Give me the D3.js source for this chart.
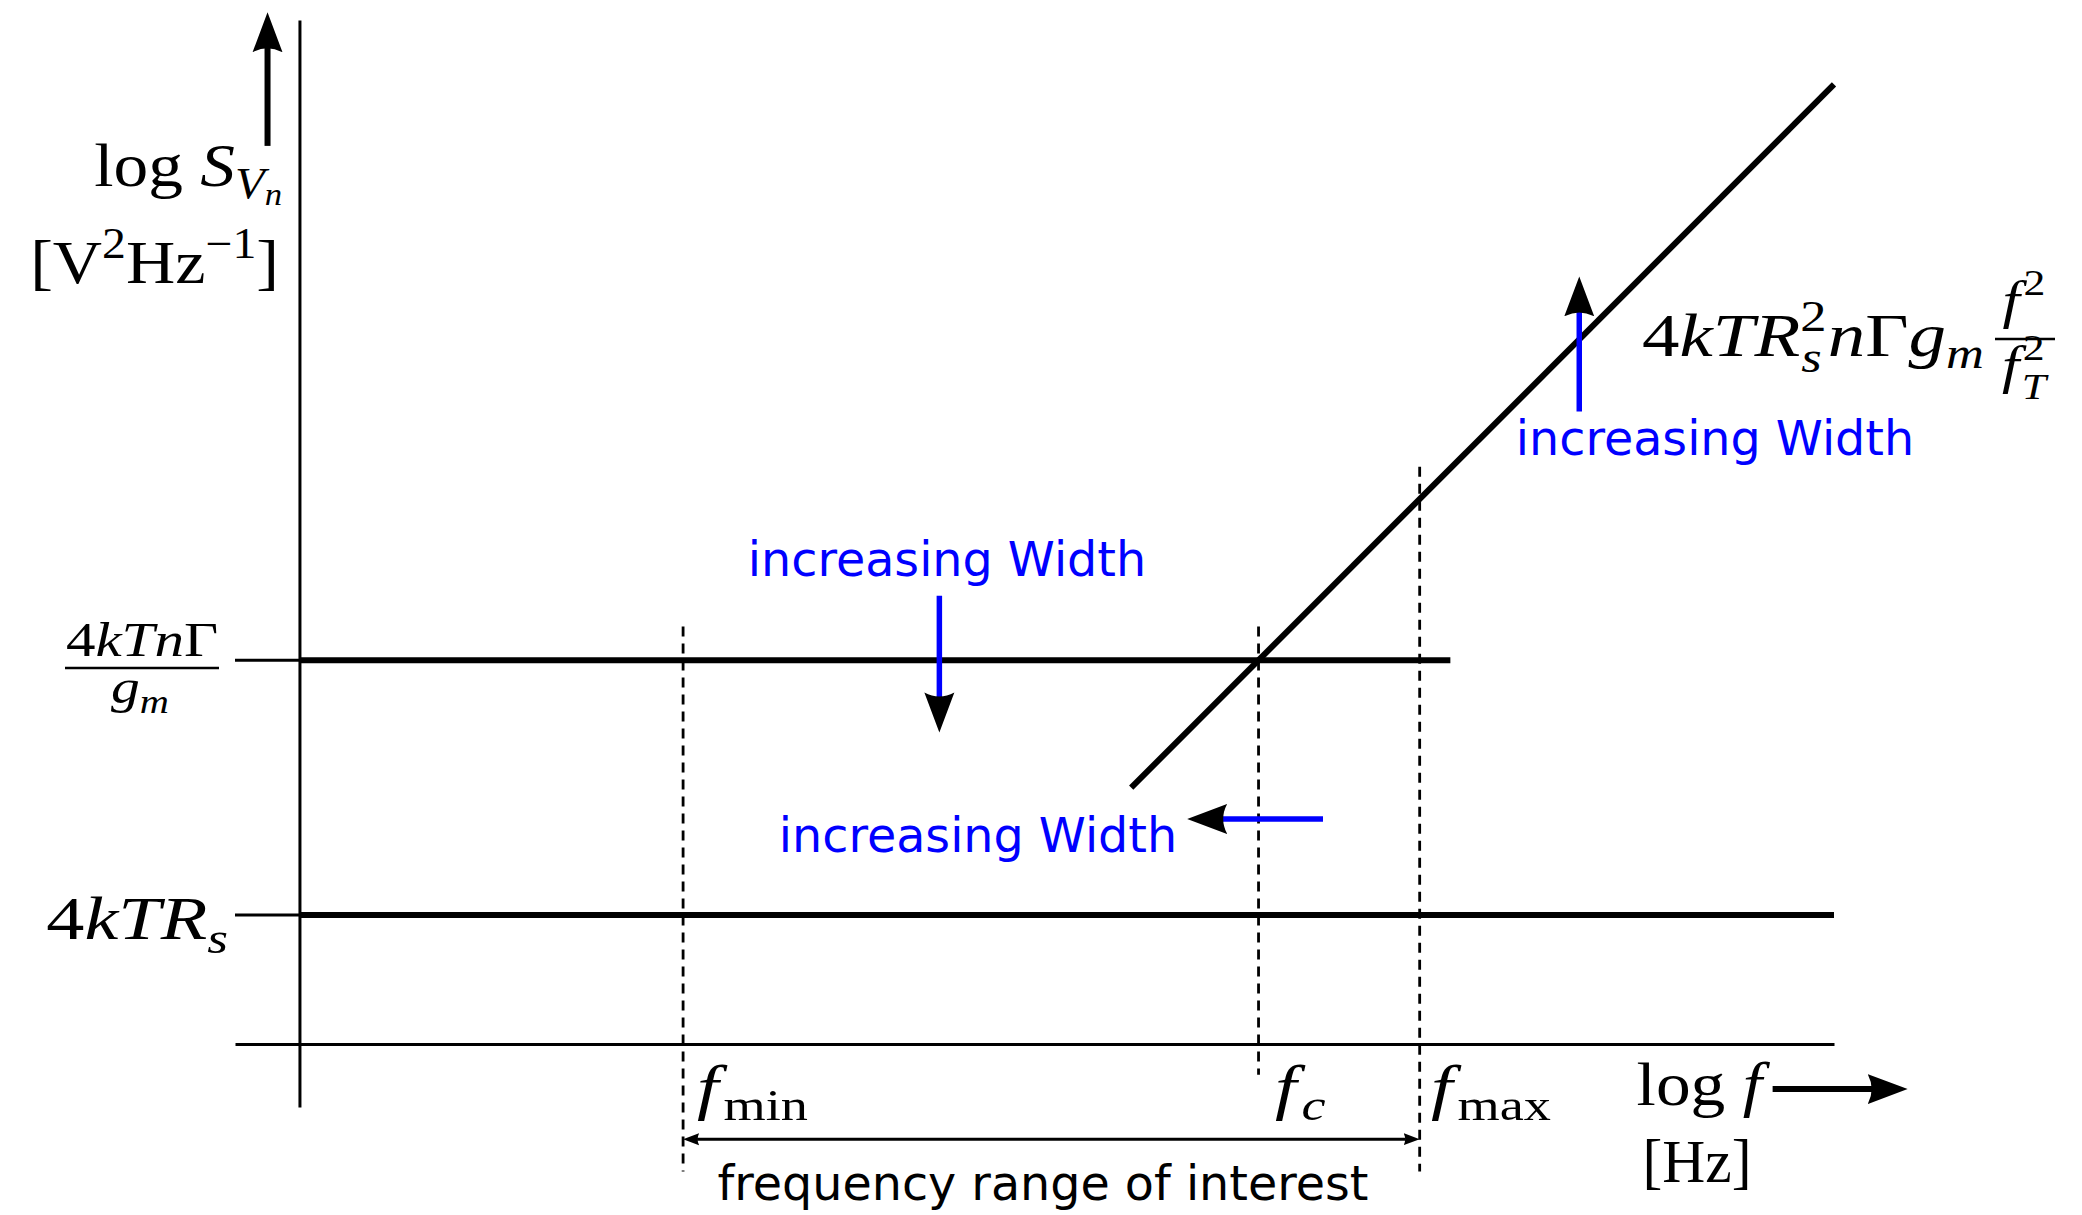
<!DOCTYPE html>
<html>
<head>
<meta charset="utf-8">
<script src="https://cdn.jsdelivr.net/npm/d3@7"></script>
<style>
body { margin: 0; background: #fff; }
svg text { font-family: "Liberation Serif", serif; }
</style>
</head>
<body>
<div id="chart"></div>
<script>
// schematic noise spectrum, arbitrary log units
var xDomain = [-4.2, 100];
var yDomain = [-4.1, 66.7];

// dashed frequency markers
var freqNames = ["min", "c", "max"];
var freqPos = [25, 62.5, 73];
var freqTop = [27.2, 27.2, 37.6];
var freqBottom = [-8.3, -2.0, -8.3];

// flat noise floors
var levelNames = ["4kTRs", "4kTnG/gm"];
var levelY = [8.4, 25];
var levelEnd = [100, 75];

// f^2 rising part
var slopeX = [54.2, 100];
var slopeY = [16.7, 62.5];

var rangeY = -6.2;

// "increasing Width" arrows
var widthFrom = [[41.7, 29.2], [66.7, 14.66], [83.4, 41.2]];
var widthTo = [[41.7, 20.3], [57.85, 14.66], [83.4, 50.0]];

var width = 2082, height = 1215;

var svg = d3.select("#chart")
    .append("svg")
    .attr("width", width)
    .attr("height", height);

var x = d3.scaleLinear().domain(xDomain).range([235, 1834]);
var y = d3.scaleLinear().domain(yDomain).range([1107, 20]);

var defs = svg.append("defs");
defs.append("marker")
    .attr("id", "head")
    .attr("viewBox", "0 -16 42 32")
    .attr("refX", 6).attr("refY", 0)
    .attr("markerWidth", 42).attr("markerHeight", 32)
    .attr("markerUnits", "userSpaceOnUse")
    .attr("orient", "auto")
    .append("path")
    .attr("d", "M0,-15 L40,0 L0,15 Q8,0 0,-15 Z")
    .attr("fill", "#000");
defs.append("marker")
    .attr("id", "small")
    .attr("viewBox", "0 -8 18 16")
    .attr("refX", 2).attr("refY", 0)
    .attr("markerWidth", 18).attr("markerHeight", 16)
    .attr("markerUnits", "userSpaceOnUse")
    .attr("orient", "auto-start-reverse")
    .append("path")
    .attr("d", "M0,-6 L16,0 L0,6 Q3,0 0,-6 Z")
    .attr("fill", "#000");

// axes (domain line only)
svg.append("g")
    .attr("transform", "translate(0," + y(0) + ")")
    .call(d3.axisBottom(x).tickValues([]).tickSizeOuter(0))
    .select(".domain").attr("stroke-width", 3);
svg.append("g")
    .attr("transform", "translate(" + x(0) + ",0)")
    .call(d3.axisLeft(y).tickValues([]).tickSizeOuter(0))
    .select(".domain").attr("stroke-width", 3);

// dashed verticals
svg.selectAll(".freq")
    .data(freqPos)
    .join("line")
    .attr("class", "freq")
    .attr("x1", function (d) { return x(d) })
    .attr("x2", function (d) { return x(d) })
    .attr("y1", function (d, i) { return y(freqTop[i]) })
    .attr("y2", function (d, i) { return y(freqBottom[i]) })
    .attr("stroke", "#000")
    .attr("stroke-width", 2.8)
    .attr("stroke-dasharray", "10,7");

// level lines: thin tick left of the axis, thick after
svg.selectAll(".tick-level")
    .data(levelY)
    .join("line")
    .attr("x1", x(xDomain[0])).attr("x2", x(0))
    .attr("y1", function (d) { return y(d) })
    .attr("y2", function (d) { return y(d) })
    .attr("stroke", "#000").attr("stroke-width", 3);
svg.selectAll(".level")
    .data(levelY)
    .join("line")
    .attr("class", "level")
    .attr("x1", x(0))
    .attr("x2", function (d, i) { return x(levelEnd[i]) })
    .attr("y1", function (d) { return y(d) })
    .attr("y2", function (d) { return y(d) })
    .attr("stroke", "#000").attr("stroke-width", 6);

svg.append("path")
    .datum(d3.zip(slopeX, slopeY))
    .attr("d", d3.line().x(function (d) { return x(d[0]) }).y(function (d) { return y(d[1]) }))
    .attr("stroke", "#000").attr("stroke-width", 6).attr("fill", "none");

// arrow helper: line from p0 to tip p1 (pixels), shortened so the marker tip lands on p1
function arrow(p0, p1, color, w, marker, cutEnd, cutStart) {
    var dx = p1[0] - p0[0], dy = p1[1] - p0[1];
    var len = Math.sqrt(dx * dx + dy * dy);
    var ux = dx / len, uy = dy / len;
    var l = svg.append("line")
        .attr("x1", p0[0] + ux * (cutStart || 0))
        .attr("y1", p0[1] + uy * (cutStart || 0))
        .attr("x2", p1[0] - ux * cutEnd)
        .attr("y2", p1[1] - uy * cutEnd)
        .attr("stroke", color)
        .attr("stroke-width", w)
        .attr("marker-end", "url(#" + marker + ")");
    if (cutStart) l.attr("marker-start", "url(#" + marker + ")");
    return l;
}

widthFrom.forEach(function (p, i) {
    arrow([x(p[0]), y(p[1])], [x(widthTo[i][0]), y(widthTo[i][1])], "#0000ff", 5.5, "head", 34);
});

// axis arrows
arrow([x(-2.08), y(58.5)], [x(-2.08), y(67.2)], "#000", 6, "head", 34);
arrow([x(96.0), y(-2.93)], [x(104.8), y(-2.93)], "#000", 6, "head", 34);

// frequency range arrow
arrow([x(freqPos[0]), y(rangeY)], [x(freqPos[2]), y(rangeY)], "#000", 3, "small", 14, 14);

// math text helper: parts {t, i (italic), k (size factor), s (baseline shift, em), dx}
// sx stretches horizontally to get closer to the wide TeX math italics
function mathText(x0, y0, parts, size, anchor, sx) {
    var t = svg.append("text")
        .attr("transform", "translate(" + x0 + "," + y0 + ") scale(" + (sx || 1) + ",1)")
        .attr("font-size", size)
        .attr("text-anchor", anchor || "start")
        .attr("fill", "#000");
    var shift = 0;
    parts.forEach(function (p) {
        var s = p.s || 0;
        t.append("tspan")
            .attr("dy", (s - shift) * size)
            .attr("dx", p.dx || 0)
            .attr("font-size", (p.k || 1) * size)
            .attr("font-style", p.i ? "italic" : "normal")
            .text(p.t);
        shift = s;
    });
    return t;
}

var M = 62;

mathText(282, 186, [{ t: "log " }, { t: "S", i: 1 }, { t: "V", i: 1, k: 0.7, s: 0.2 }, { t: "n", i: 1, k: 0.5, s: 0.3 }], M, "end", 1.12);
mathText(279, 283, [{ t: "[V" }, { t: "2", k: 0.7, s: -0.4 }, { t: "Hz" }, { t: "\u22121", k: 0.7, s: -0.4 }, { t: "]" }], M, "end", 1.1);

// fraction label for the upper level
mathText(142, 656, [{ t: "4" }, { t: "kTn", i: 1 }, { t: "\u0393" }], 48, "middle", 1.23);
svg.append("line").attr("x1", 65).attr("x2", 219).attr("y1", 668).attr("y2", 668)
    .attr("stroke", "#000").attr("stroke-width", 2.4);
mathText(140, 703, [{ t: "g", i: 1 }, { t: "m", i: 1, k: 0.7, s: 0.2 }], 48, "middle", 1.2);

mathText(228, 939, [{ t: "4" }, { t: "kTR", i: 1 }, { t: "s", i: 1, k: 0.7, s: 0.22 }], M, "end", 1.23);

// f labels
var fLabelX = [697, 1275, 1431];
freqNames.forEach(function (n, i) {
    var parts = [{ t: "f", i: 1 }];
    if (n === "c") parts.push({ t: "c", i: 1, k: 0.7, s: 0.2, dx: 4 });
    else parts.push({ t: n, k: 0.7, s: 0.2, dx: 4 });
    mathText(fLabelX[i], 1108, parts, M, "start", 1.25);
});

mathText(1762, 1105, [{ t: "log " }, { t: "f", i: 1 }], M, "end", 1.12);
mathText(1697, 1182, [{ t: "[Hz]" }], M, "middle", 0.96);

// f^2 formula
mathText(1642, 356, [{ t: "4" }, { t: "kTR", i: 1 }, { t: "2", k: 0.7, s: -0.4 },
    { t: "s", i: 1, k: 0.7, s: 0.25, dx: -21 }, { t: "n", i: 1, dx: 5 }, { t: "\u0393" }, { t: "g", i: 1 },
    { t: "m", i: 1, k: 0.7, s: 0.2 }], M, "start", 1.21);
mathText(2024, 318, [{ t: "f", i: 1 }, { t: "2", k: 0.7, s: -0.45, dx: 3 }], 52, "middle", 1.2);
svg.append("line").attr("x1", 1995).attr("x2", 2055).attr("y1", 339).attr("y2", 339)
    .attr("stroke", "#000").attr("stroke-width", 2.4);
mathText(2024, 383, [{ t: "f", i: 1 }, { t: "2", k: 0.7, s: -0.45, dx: 3 }, { t: "T", i: 1, k: 0.7, s: 0.3, dx: -19 }], 52, "middle", 1.2);

// blue annotations
var blueText = ["increasing Width", "increasing Width", "increasing Width"];
var blueX = [947, 978, 1715];
var blueY = [576, 852, 455];
svg.selectAll(".blue")
    .data(blueText)
    .join("text")
    .attr("x", function (d, i) { return blueX[i] })
    .attr("y", function (d, i) { return blueY[i] })
    .attr("text-anchor", "middle")
    .style("font-family", "'DejaVu Sans', sans-serif")
    .attr("font-size", 47.6)
    .attr("fill", "#0000ff")
    .text(function (d) { return d });

svg.append("text")
    .attr("x", 1043).attr("y", 1200)
    .attr("text-anchor", "middle")
    .style("font-family", "'DejaVu Sans', sans-serif")
    .attr("font-size", 47.6)
    .attr("fill", "#000")
    .text("frequency range of interest");
</script>
</body>
</html>
